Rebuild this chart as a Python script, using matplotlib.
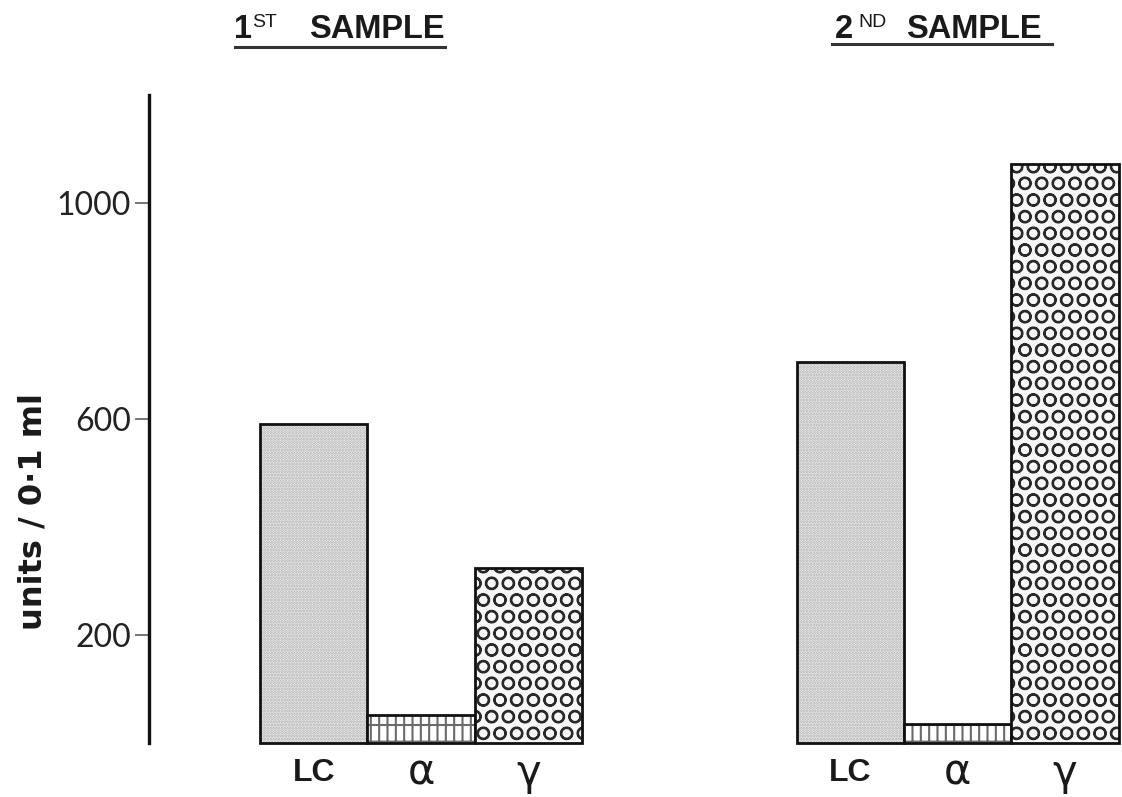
import matplotlib
matplotlib.use("Agg")
import matplotlib.pyplot as plt
from matplotlib.lines import Line2D
from matplotlib.transforms import blended_transform_factory

# Enzyme activity per sample
categories = ["LC", "α", "γ"]
sample_1 = [591, 52, 324]
sample_2 = [705, 35, 1073]
y_ticks = [200, 600, 1000]

W, H = 1122, 797
plt.rcParams["hatch.linewidth"] = 1.5

fig = plt.figure(figsize=(W / 100, H / 100), dpi=100)


def px(x, y):
    return x / W, 1 - y / H


ax = fig.add_axes([149 / W, (H - 743) / H, (W - 149) / W, (743 - 95) / H])
ax.set_xlim(-1.034, 8.03)
ax.set_ylim(0, 1200)

faces = ["white", "white", "#f7f7f7"]
hatch_cols = ["#a6a6a6", "#6a6a6a", "#2a2a2a"]
hatches = ["......", "||-", "O"]

for offset, values in [(0, sample_1), (5, sample_2)]:
    xs = [offset + i for i in range(len(categories))]
    for x, v, fc, hc, h in zip(xs, values, faces, hatch_cols, hatches):
        ax.bar(x, v, width=1, align="edge", color=fc, edgecolor=hc,
               linewidth=0, hatch=h, clip_on=False)
        ax.bar(x, v, width=1, align="edge", fill=False, edgecolor="#111111",
               linewidth=2.0, clip_on=False)

# Category labels under each bar
trans = blended_transform_factory(ax.transData, ax.transAxes)
for offset in (0, 5):
    for i, cat in enumerate(categories):
        if cat == "LC":
            ax.text(offset + i + 0.5, -0.046, cat, transform=trans, ha="center",
                    va="center", fontsize=23, fontweight="bold",
                    family="Liberation Sans", color="#1a1a1a")
        else:
            ax.text(offset + i + 0.5, -0.046, cat, transform=trans, ha="center",
                    va="center", fontsize=30, family="DejaVu Sans",
                    color="#1a1a1a")

# Axis styling
for s in ("top", "right", "bottom"):
    ax.spines[s].set_visible(False)
ax.spines["left"].set_linewidth(2.4)
ax.spines["left"].set_color("#111111")
ax.set_xticks([])
ax.set_yticks(y_ticks)
ax.set_yticklabels([str(t) for t in y_ticks], fontsize=23, family="Lato",
                   color="#222222")
ax.tick_params(axis="y", direction="out", length=10, width=1.4,
               color="#777777", pad=3)

# Y axis title
fig.text(*px(33, 512), "units / 0·1 ml", rotation=90, ha="center",
         va="center", fontsize=23, fontweight="bold",
         family="DejaVu Sans", color="#1a1a1a")

# Sample headings with superscripts and underline
def heading(x0, num, sup, sup_x, word_x, line_x0, line_x1, line_y):
    fig.text(*px(x0, 38), num, fontsize=23.5, fontweight="bold",
             family="Liberation Sans", va="baseline", color="#1a1a1a")
    fig.text(*px(sup_x, 14), sup, fontsize=14, family="Liberation Sans",
             va="top", color="#1a1a1a")
    fig.text(*px(word_x, 38), "SAMPLE", fontsize=23.5, fontweight="bold",
             family="Liberation Sans", va="baseline", color="#1a1a1a")
    fig.add_artist(Line2D([line_x0 / W, line_x1 / W],
                          [1 - line_y / H, 1 - line_y / H],
                          color="#333333", linewidth=2.2))


heading(234, "1", "ST", 252, 309, 235, 445, 47)
heading(835, "2", "ND", 858, 906, 832, 1052, 44)

fig.savefig("out.png", dpi=100, facecolor="white")
